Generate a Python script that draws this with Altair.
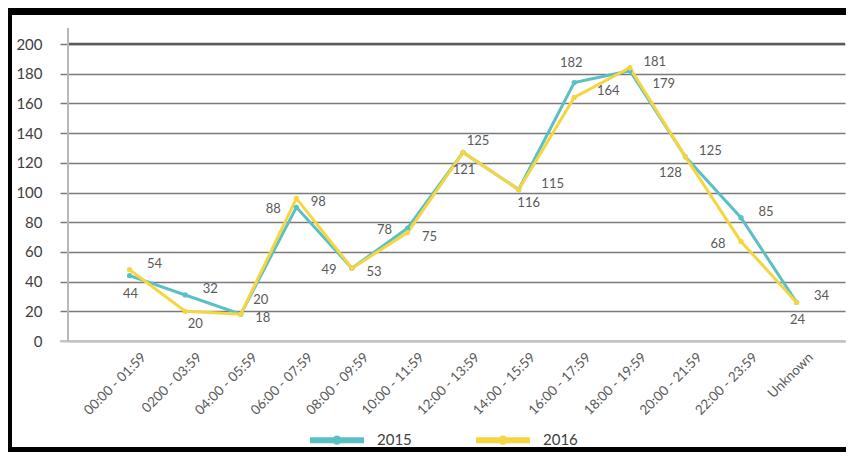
import altair as alt
import pandas as pd

categories = ["00:00 - 01:59", "0200 - 03:59", "04:00 - 05:59", "06:00 - 07:59",
              "08:00 - 09:59", "10:00 - 11:59", "12:00 - 13:59", "14:00 - 15:59",
              "16:00 - 17:59", "18:00 - 19:59", "20:00 - 21:59", "22:00 - 23:59", "Unknown"]
series_names = ["2015", "2016"]
values_2015 = [44, 31, 18, 90, 49, 76, 127, 102, 174, 182, 124, 83, 26]
values_2016 = [48, 20, 18, 96, 49, 73, 127, 102, 164, 184, 124, 67, 26]
labels_2015 = ["44", "32", "20", "88", "49", "78", "125", "116", "182", "179", "125", "85", "34"]
labels_2016 = ["54", "20", "18", "98", "53", "75", "121", "115", "164", "181", "128", "68", "24"]
# label placement codes (style only)
place_2015 = ["b", "ra", "ru", "l", "l", "l", "ar", "br", "a", "rrb", "ra", "ra", "ra"]
place_2016 = ["ra", "br", "rb", "rb", "rb", "rb", "b", "rr", "rr", "ra", "lb", "l", "b"]
y_ticks = [0, 20, 40, 60, 80, 100, 120, 140, 160, 180, 200]

OFFSETS = {"ra": (25, -6), "rb": (22, 4), "l": (-23, 2), "b": (1, 18), "br": (10, 13),
           "a": (-3, -20), "ar": (15, -11), "rr": (34, -6), "rrb": (34, 13),
           "lb": (-15, 16), "ru": (20, -14)}

TEAL = "#5BC0C6"
YELLOW = "#F6D640"
GRID = "#7a7a7a"
W, H = 777, 297
PAD = {"left": 60, "top": 36, "right": 1, "bottom": 111}

rows = []
for name, vals, labs, plc in [("2015", values_2015, labels_2015, place_2015),
                              ("2016", values_2016, labels_2016, place_2016)]:
    for c, v, l, p in zip(categories, vals, labs, plc):
        rows.append({"cat": c, "series": name, "value": v, "label": l, "place": p})
df = pd.DataFrame(rows)

xscale = alt.Scale(type="point", padding=0.99, align=0.56)
xaxis = alt.Axis(title=None, labelAngle=-45, labelFont="Lato", labelFontSize=13.5,
                 labelColor="#595959", ticks=False, domainColor="#c4c4c4",
                 domainWidth=2, labelPadding=9, labelOffset=9, grid=False,
                 labelOverlap=False, zindex=1)
yscale = alt.Scale(domain=[0, 200], nice=False)
yaxis = alt.Axis(title=None, values=y_ticks, tickCount=11, labelFont="Lato", labelFontSize=15,
                 labelColor="#404040", tickSize=8, tickWidth=1.5, tickColor=GRID,
                 grid=True, gridColor=GRID, gridWidth=1.5, gridOpacity=1,
                 domain=False, labelPadding=18, labelOverlap=False)
xenc = alt.X("cat:N", sort=categories, scale=xscale, axis=xaxis)
yenc = alt.Y("value:Q", scale=yscale, axis=yaxis)

legend_path = "M-1,0L1,0M0.06,0A0.06,0.06,0,1,1,-0.06,0A0.06,0.06,0,1,1,0.06,0Z"
color = alt.Color("series:N", scale=alt.Scale(domain=series_names, range=[TEAL, YELLOW]),
                  legend=alt.Legend(orient="none", legendX=239, legendY=366, direction="horizontal",
                                    title=None, symbolType=legend_path, symbolSize=2916,
                                    symbolStrokeWidth=6, labelFontSize=15, labelFont="Lato",
                                    labelColor="#404040", labelOffset=10, columnPadding=52,
                                    padding=0))

base = alt.Chart(df)
lines = base.mark_line(strokeWidth=3, point=alt.OverlayMarkDef(size=28, filled=True)).encode(
    x=xenc, y=yenc, color=color, order=alt.Order("series:N"))

texts = []
for code, (dx, dy) in OFFSETS.items():
    texts.append(base.transform_filter(alt.datum.place == code).mark_text(
        dx=dx, dy=dy, font="Lato", fontSize=13, color="#595959", align="center", baseline="middle"
    ).encode(x=xenc, y=yenc, text="label:N"))

dummy = alt.Data(values=[{"a": 1}])
top_rule = alt.Chart(dummy).mark_rule(color="#5a5a5a", strokeWidth=2.5).encode(
    y=alt.Y(datum=200, scale=yscale, axis=yaxis))
zero_rule = alt.Chart(dummy).mark_rule(color="#c4c4c4", strokeWidth=2).encode(
    x=alt.value(-8), x2=alt.value(W), y=alt.Y(datum=0, scale=yscale, axis=yaxis))
yaxis_line = alt.Chart(dummy).mark_rule(color="#b8b8b8", strokeWidth=2).encode(
    x=alt.value(0), y=alt.value(-16), y2=alt.value(H))
frame_left = alt.Chart(dummy).mark_rect(color="black").encode(
    x=alt.value(-PAD["left"]), x2=alt.value(-PAD["left"] + 4),
    y=alt.value(-PAD["top"]), y2=alt.value(H + PAD["bottom"]))
frame_top = alt.Chart(dummy).mark_rect(color="black").encode(
    x=alt.value(-PAD["left"]), x2=alt.value(W + PAD["right"]),
    y=alt.value(-PAD["top"]), y2=alt.value(-PAD["top"] + 7))
frame_bottom = alt.Chart(dummy).mark_rect(color="black").encode(
    x=alt.value(-PAD["left"]), x2=alt.value(W + PAD["right"]),
    y=alt.value(H + PAD["bottom"] - 5), y2=alt.value(H + PAD["bottom"]))

chart = alt.layer(lines, top_rule, zero_rule, yaxis_line, *texts, frame_left, frame_top, frame_bottom).properties(
    width=W, height=H, padding=PAD,
    autosize=alt.AutoSizeParams(type="none"),
    background="white"
).configure_view(stroke=None)

chart.save("out.html", embed_options={"renderer": "svg", "actions": False})
